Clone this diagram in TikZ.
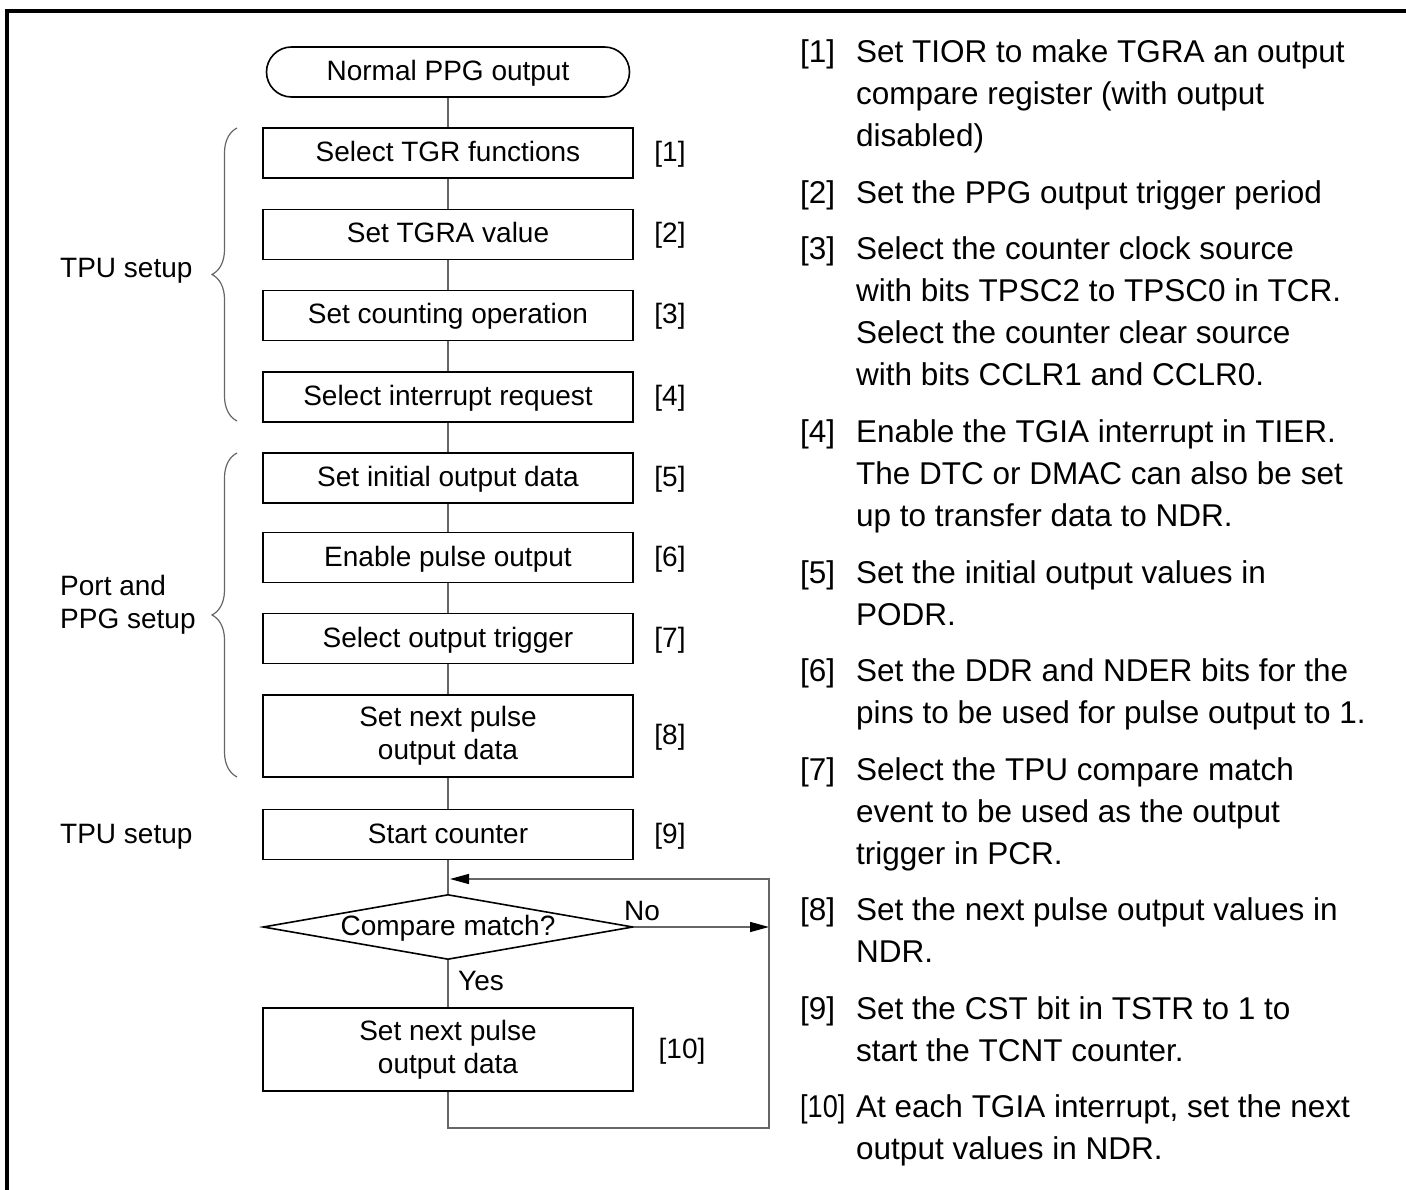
\documentclass[tikz,border=0pt]{standalone}
\usepackage{fontspec}
\setmainfont{Liberation Sans}
\usetikzlibrary{shapes.geometric,decorations.pathreplacing,arrows.meta}
\newcommand\desctab[1]{\begin{tabular}[t]{@{}l@{}}#1\end{tabular}}
\begin{document}
\begin{tikzpicture}[x=1pt,y=-1pt,
  fs/.style={font=\fontsize{28}{33}\selectfont},
  fr/.style={font=\fontsize{31.5}{42}\selectfont},
  stepbox/.style={draw,line width=1.8pt,minimum width=370pt,minimum height=50pt,inner sep=0pt,align=center,fs,text height=19pt,text depth=2pt},
  twobox/.style={draw,line width=1.8pt,minimum width=370pt,minimum height=82pt,inner sep=0pt,align=center,fs},
  term/.style={draw,line width=1.6pt,rounded corners=25pt,minimum width=363pt,minimum height=50pt,inner sep=0pt,fs,text height=19pt,text depth=2pt},
  decide/.style={draw,diamond,aspect=5.7,line width=1.6pt,minimum width=370pt,minimum height=65pt,inner sep=0pt,fs,text height=19pt,text depth=2pt},
  conn/.style={draw=black!60,line width=1.4pt},
  tip/.style={-{Triangle[length=19pt,width=10pt,color=black]}},
  brc/.style={draw=black!60,line width=1.2pt,decorate,decoration={brace,amplitude=25pt}},
  tag/.style={fs,inner sep=0pt,text height=19pt,text depth=2pt},
  plain/.style={inner sep=0pt,anchor=base west}
]
\useasboundingbox (0,0) rectangle (1406,1190);
% frame
\draw[line width=3.4pt] (7,1190) -- (7,11) -- (1406,11);

% flowchart nodes
\node[term] (t) at (448,72) {Normal PPG output};
\node[stepbox] (b1) at (448,153) {Select TGR functions};
\node[stepbox] (b2) at (448,234.5) {Set TGRA value};
\node[stepbox] (b3) at (448,315.5) {Set counting operation};
\node[stepbox] (b4) at (448,397) {Select interrupt request};
\node[stepbox] (b5) at (448,478) {Set initial output data};
\node[stepbox] (b6) at (448,557.5) {Enable pulse output};
\node[stepbox] (b7) at (448,638.5) {Select output trigger};
\node[twobox] (b8) at (448,736) {Set next pulse\\output data};
\node[stepbox] (b9) at (448,834.5) {Start counter};
\node[decide] (cmp) at (448,927) {Compare match?};
\node[twobox,minimum height=83pt] (b10) at (448,1049.5) {Set next pulse\\output data};

% step tags
\node[tag] (l1) at (670,153) {[1]};
\node[tag] (l2) at (670,234.5) {[2]};
\node[tag] (l3) at (670,315.5) {[3]};
\node[tag] (l4) at (670,397) {[4]};
\node[tag] (l5) at (670,478) {[5]};
\node[tag] (l6) at (670,557.5) {[6]};
\node[tag] (l7) at (670,638.5) {[7]};
\node[tag] (l8) at (670,736) {[8]};
\node[tag] (l9) at (670,834.5) {[9]};
\node[tag] (l10) at (682,1049.5) {[10]};

% connectors
\draw[conn] (t) -- (b1);
\draw[conn] (b1) -- (b2);
\draw[conn] (b2) -- (b3);
\draw[conn] (b3) -- (b4);
\draw[conn] (b4) -- (b5);
\draw[conn] (b5) -- (b6);
\draw[conn] (b6) -- (b7);
\draw[conn] (b7) -- (b8);
\draw[conn] (b8) -- (b9);
\draw[conn] (b9) -- (cmp);
\draw[conn] (cmp) -- (b10);

\coordinate (noend) at (769,927);
\coordinate (lb) at (448,1128);
\coordinate (rb) at (769,1128);
\coordinate (rt) at (769,879);
\coordinate (jt) at (450,879);
\draw[conn,tip] (cmp.east) -- (noend);
\draw[conn,tip] (b10.south) -- (lb) -- (rb) -- (rt) -- (jt);

\node[plain,fs] (yes) at (458,990) {Yes};
\node[plain,fs] (no) at (624,920) {No};

% braces and group labels
\draw[brc] (237,421) -- (237,128);
\draw[brc] (237,777) -- (237,453);
\node[plain,fs] (g1) at (60,278) {TPU setup};
\node[plain,fs] (g2) at (60,595) {\desctab{Port and\\PPG setup}};
\node[plain,fs] (g3) at (60,843) {TPU setup};

% right-hand notes
\node[plain,fr] (n1) at (800,63) {[1]};
\node[plain,fr] (d1) at (856,63) {\desctab{Set TIOR to make TGRA an output\\compare register (with output\\disabled)}};
\node[plain,fr] (n2) at (800,203.5) {[2]};
\node[plain,fr] (d2) at (856,203.5) {\desctab{Set the PPG output trigger period}};
\node[plain,fr] (n3) at (800,260) {[3]};
\node[plain,fr] (d3) at (856,260) {\desctab{Select the counter clock source\\with bits TPSC2 to TPSC0 in TCR.\\Select the counter clear source\\with bits CCLR1 and CCLR0.}};
\node[plain,fr] (n4) at (800,442.5) {[4]};
\node[plain,fr] (d4) at (856,442.5) {\desctab{Enable the TGIA interrupt in TIER.\\The DTC or DMAC can also be set\\up to transfer data to NDR.}};
\node[plain,fr] (n5) at (800,583) {[5]};
\node[plain,fr] (d5) at (856,583) {\desctab{Set the initial output values in\\PODR.}};
\node[plain,fr] (n6) at (800,681.5) {[6]};
\node[plain,fr] (d6) at (856,681.5) {\desctab{Set the DDR and NDER bits for the\\pins to be used for pulse output to 1.}};
\node[plain,fr] (n7) at (800,780) {[7]};
\node[plain,fr] (d7) at (856,780) {\desctab{Select the TPU compare match\\event to be used as the output\\trigger in PCR.}};
\node[plain,fr] (n8) at (800,920.5) {[8]};
\node[plain,fr] (d8) at (856,920.5) {\desctab{Set the next pulse output values in\\NDR.}};
\node[plain,fr] (n9) at (800,1019) {[9]};
\node[plain,fr] (d9) at (856,1019) {\desctab{Set the CST bit in TSTR to 1 to\\start the TCNT counter.}};
\node[plain,fr] (n10) at (800,1117.5) {\scalebox{0.86}[1]{[10]}};
\node[plain,fr] (d10) at (856,1117.5) {\desctab{At each TGIA interrupt, set the next\\output values in NDR.}};
\end{tikzpicture}
\end{document}
